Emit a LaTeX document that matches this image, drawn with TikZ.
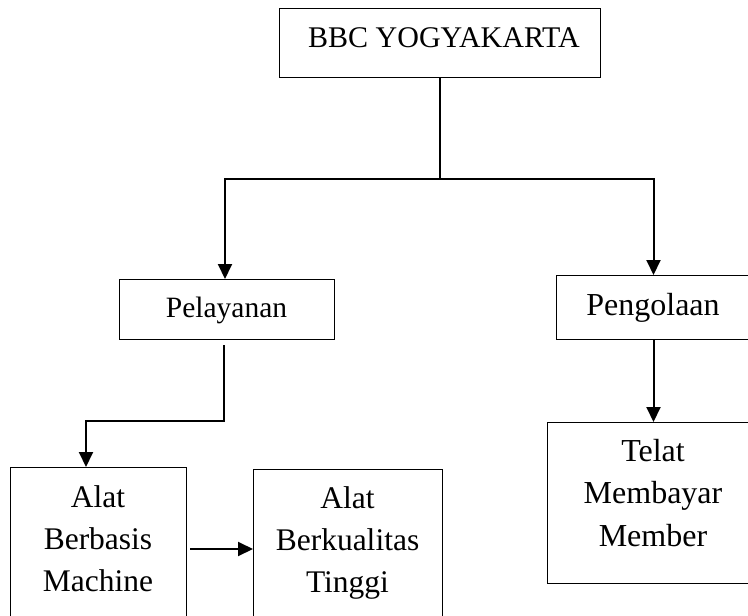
\documentclass[tikz,border=0pt]{standalone}
\usepackage{fontspec}
\setmainfont{Liberation Serif}
\usetikzlibrary{arrows.meta}
\begin{document}
\begin{tikzpicture}[x=1pt,y=-1pt,
  box/.style={draw=black, line width=1pt, inner sep=0pt, anchor=north west},
  lbl/.style={inner sep=0pt, anchor=base, font=\fontsize{31.5}{42}\selectfont},
  conn/.style={line width=2pt},
  tip/.style={-{Triangle[length=15pt,width=14pt]}},
  tips/.style={{Triangle[length=15pt,width=14pt]}-{Triangle[length=15pt,width=14pt]}}]
\useasboundingbox (0,0) rectangle (748,616);
\clip (0,0) rectangle (748,616);
% boxes
\node[box, minimum width=321pt, minimum height=69pt] (bbc) at (279,8) {};
\node[box, minimum width=215pt, minimum height=60pt] (pel) at (119,279) {};
\node[box, minimum width=194pt, minimum height=64pt] (peng) at (556,275) {};
\node[box, minimum width=176.5pt, minimum height=170pt] (machine) at (9.5,467) {};
\node[box, minimum width=189pt, minimum height=170pt] (tinggi) at (253,469) {};
\node[box, minimum width=203pt, minimum height=161pt] (telat) at (547,422) {};
% texts
\node[lbl, font=\fontsize{30}{36}\selectfont] (bbctxt) at (444,47) {BBC YOGYAKARTA};
\node[lbl, font=\fontsize{29.5}{36}\selectfont] (peltxt) at (226.5,317) {Pelayanan};
\node[lbl, font=\fontsize{32}{36}\selectfont] (pengtxt) at (653,315) {Pengolaan};
\node[lbl] (machinetxt) at (98,507) {\begin{tabular}[t]{@{}c@{}}Alat\\Berbasis\\Machine\end{tabular}};
\node[lbl] (tinggitxt) at (347.5,508) {\begin{tabular}[t]{@{}c@{}}Alat\\Berkualitas\\Tinggi\end{tabular}};
\node[lbl, font=\fontsize{32}{42.5}\selectfont] (telattxt) at (653,461) {\begin{tabular}[t]{@{}c@{}}Telat\\Membayar\\Member\end{tabular}};
% connectors
\coordinate (j) at (440,179);
\coordinate (k) at (86,421);
\coordinate (r) at (0,549);
\draw[conn] (bbc.south) -- (j);
\draw[conn, tips] ([xshift=-2pt]pel.north) -- ([xshift=-2pt]pel.north |- j) -- (peng.north |- j) -- (peng.north);
\draw[conn, tip] ([xshift=-3pt,yshift=-5pt]pel.south) |- (k) -- (k |- machine.north);
\draw[conn, tip, shorten <=3pt] (machine.east |- r) -- (tinggi.west |- r);
\draw[conn, tip] (peng.south) -- (peng.south |- telat.north);
\end{tikzpicture}
\end{document}
